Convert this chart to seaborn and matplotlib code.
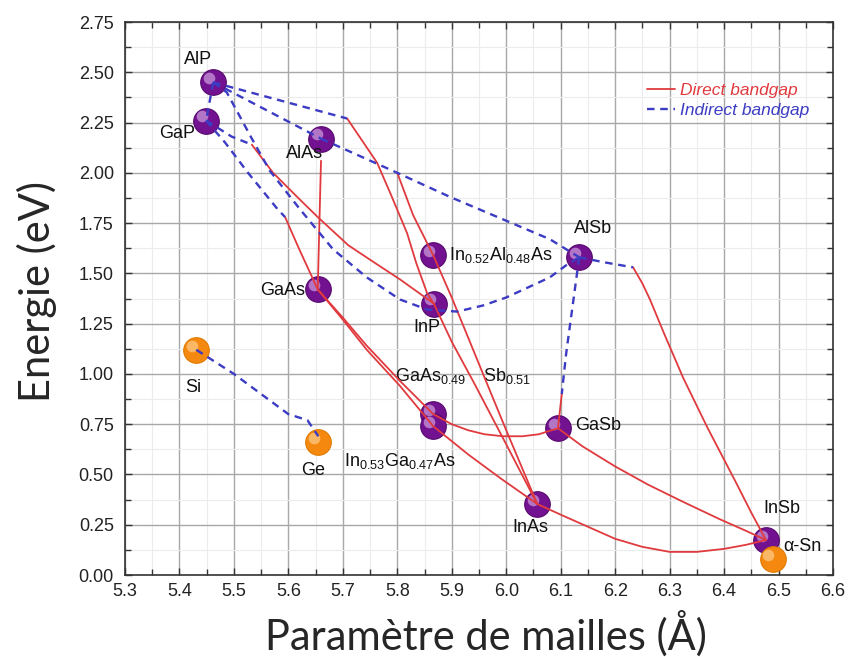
import matplotlib
matplotlib.use("Agg")
import matplotlib.pyplot as plt
import matplotlib.transforms as mtransforms
from matplotlib.lines import Line2D
from matplotlib.ticker import MultipleLocator, FormatStrFormatter
import pandas as pd
import seaborn as sns

# --- materiaux (parametre de maille en A, gap en eV) ---
iii_v_names = ["AlP", "GaP", "AlAs", "GaAs", "InP", "In0.52Al0.48As", "AlSb",
               "GaAs0.49Sb0.51", "In0.53Ga0.47As", "GaSb", "InAs", "InSb"]
iii_v_a = [5.462, 5.449, 5.660, 5.654, 5.867, 5.866, 6.134, 5.866, 5.866, 6.095, 6.057, 6.477]
iii_v_eg = [2.45, 2.26, 2.17, 1.42, 1.35, 1.59, 1.58, 0.80, 0.74, 0.73, 0.353, 0.174]

iv_names = ["Si", "Ge", "α-Sn"]
iv_a = [5.431, 5.655, 6.489]
iv_eg = [1.12, 0.66, 0.08]

# --- courbes gap direct (rouge) ---
direct_curves = {
    "AlAs-GaAs": [(5.660, 2.06), (5.657, 1.75), (5.654, 1.42)],
    "GaAsP": [(5.594, 1.78), (5.62, 1.62), (5.654, 1.42)],
    "GaInP": [(5.533, 2.14), (5.572, 2.00), (5.62, 1.87), (5.654, 1.78), (5.71, 1.64),
              (5.76, 1.55), (5.805, 1.47), (5.867, 1.35)],
    "AlInP": [(5.708, 2.27), (5.763, 2.05), (5.787, 1.90), (5.818, 1.70), (5.835, 1.55),
              (5.855, 1.40), (5.867, 1.35)],
    "InAsP": [(5.867, 1.35), (5.90, 1.16), (5.94, 0.96), (6.00, 0.65), (6.057, 0.353)],
    "AlInAs": [(5.80, 2.00), (5.829, 1.79), (5.866, 1.59), (5.90, 1.38), (5.962, 0.97),
               (6.00, 0.72), (6.057, 0.353)],
    "GaInAs": [(5.654, 1.42), (5.70, 1.27), (5.744, 1.12), (5.805, 0.94), (5.866, 0.74),
               (5.93, 0.60), (5.99, 0.48), (6.057, 0.353)],
    "GaAsSb": [(5.654, 1.42), (5.70, 1.28), (5.744, 1.14), (5.805, 0.965), (5.866, 0.80),
               (5.90, 0.75), (5.93, 0.72), (5.96, 0.70), (5.994, 0.69), (6.03, 0.69),
               (6.06, 0.70), (6.095, 0.73)],
    "InAsSb": [(6.057, 0.353), (6.10, 0.30), (6.15, 0.24), (6.20, 0.18), (6.25, 0.14),
               (6.30, 0.115), (6.35, 0.115), (6.40, 0.13), (6.44, 0.15), (6.477, 0.174)],
    "GaInSb": [(6.095, 0.73), (6.14, 0.64), (6.20, 0.54), (6.26, 0.45), (6.32, 0.37),
               (6.39, 0.28), (6.44, 0.22), (6.477, 0.174)],
    "AlInSb": [(6.233, 1.53), (6.25, 1.45), (6.264, 1.37), (6.29, 1.20), (6.325, 0.98),
               (6.37, 0.73), (6.42, 0.47), (6.45, 0.31), (6.477, 0.174)],
    "AlGaSb": [(6.102, 0.90), (6.095, 0.73)],
}

# --- courbes gap indirect (bleu, tirets) ---
indirect_curves = {
    "AlP-GaP": [(5.462, 2.45), (5.449, 2.26)],
    "AlP-InP": [(5.462, 2.45), (5.708, 2.27)],
    "AlP-AlAs": [(5.462, 2.45), (5.660, 2.17)],
    "AlAs-AlSb": [(5.660, 2.17), (5.80, 2.00), (5.897, 1.88), (6.08, 1.67), (6.134, 1.58)],
    "AlPSb": [(5.462, 2.45), (5.487, 2.40), (5.511, 2.28), (5.533, 2.17), (5.566, 2.01),
              (5.621, 1.82), (5.682, 1.62), (5.744, 1.48), (5.805, 1.37), (5.855, 1.32),
              (5.91, 1.31), (5.957, 1.34), (6.00, 1.38), (6.04, 1.43), (6.08, 1.48),
              (6.11, 1.54), (6.134, 1.58)],
    "GaP-InP": [(5.449, 2.26), (5.496, 2.18), (5.533, 2.14)],
    "GaP-GaAs": [(5.449, 2.26), (5.484, 2.15), (5.526, 2.00), (5.58, 1.82), (5.594, 1.78)],
    "AlSb-InSb": [(6.134, 1.58), (6.18, 1.555), (6.233, 1.53)],
    "AlSb-GaSb": [(6.134, 1.58), (6.12, 1.30), (6.11, 1.10), (6.102, 0.90)],
    "Si-Ge": [(5.431, 1.12), (5.50, 1.00), (5.60, 0.80), (5.635, 0.77), (5.655, 0.69)],
}

rows = []
for gap, curves in (("Direct", direct_curves), ("Indirect", indirect_curves)):
    for name, pts in curves.items():
        for i, (a, eg) in enumerate(pts):
            rows.append({"curve": name, "gap": gap, "order": i, "a": a, "eg": eg})
lines_df = pd.DataFrame(rows)

iii_v_df = pd.DataFrame({"name": iii_v_names, "a": iii_v_a, "eg": iii_v_eg})
iv_df = pd.DataFrame({"name": iv_names, "a": iv_a, "eg": iv_eg})

RED = "#e03a3e"
BLUE = "#3b3bc4"
PURPLE = "#731290"
ORANGE = "#f5890f"

sns.set_style("ticks")
plt.rcParams["font.family"] = ["Liberation Sans", "DejaVu Sans"]
plt.rcParams["mathtext.fontset"] = "custom"
plt.rcParams["mathtext.rm"] = "Liberation Sans"
plt.rcParams["mathtext.it"] = "Liberation Sans:italic"
plt.rcParams["mathtext.bf"] = "Liberation Sans:bold"

fig = plt.figure(figsize=(8.5, 6.57), dpi=100)
ax = fig.add_axes([0.147, 0.1248, 0.833, 0.8417])


def spheres(df, color, edge, light):
    sns.scatterplot(data=df, x="a", y="eg", ax=ax, s=340, color=color,
                    edgecolor=edge, linewidth=0.8, zorder=3, legend=False)
    off = mtransforms.offset_copy(ax.transData, fig=fig, x=-3, y=3, units="points")
    ax.scatter(df["a"], df["eg"], s=70, color=light, alpha=0.55, linewidths=0,
               transform=off, zorder=3.5)


spheres(iii_v_df, PURPLE, "#56086e", "#e9c8f3")
spheres(iv_df, ORANGE, "#e07a00", "#ffe0b0")

sns.lineplot(data=lines_df, x="a", y="eg", units="curve", estimator=None, sort=False,
             hue="gap", style="gap", size="gap",
             palette={"Direct": RED, "Indirect": BLUE},
             dashes={"Direct": "", "Indirect": (3.2, 2.4)},
             sizes={"Direct": 1.3, "Indirect": 1.7},
             legend=False, ax=ax, zorder=4)

# etiquettes
label_specs = {
    "AlP": ("AlP", (-15, 23), "center"),
    "GaP": ("GaP", (-29, -13), "center"),
    "AlAs": ("AlAs", (-16, -15), "center"),
    "GaAs": ("GaAs", (-13, -1), "right"),
    "InP": ("InP", (-7, -24), "center"),
    "In0.52Al0.48As": (r"In$_{0.52}$Al$_{0.48}$As", (16, 0), "left"),
    "AlSb": ("AlSb", (14, 29), "center"),
    "In0.53Ga0.47As": (r"In$_{0.53}$Ga$_{0.47}$As", (-89, -35), "left"),
    "GaSb": ("GaSb", (17, 3), "left"),
    "InAs": ("InAs", (-7, -23), "center"),
    "InSb": ("InSb", (16, 32), "center"),
    "Si": ("Si", (-3, -38), "center"),
    "Ge": ("Ge", (-5, -28), "center"),
    "α-Sn": ("α-Sn", (11, 12), "left"),
}
all_pts = pd.concat([iii_v_df, iv_df], ignore_index=True)
for _, r in all_pts.iterrows():
    if r["name"] in label_specs:
        txt, off, ha = label_specs[r["name"]]
        ax.annotate(txt, (r["a"], r["eg"]), xytext=off, textcoords="offset pixels",
                    ha=ha, va="center", fontsize=13, color="#111111", zorder=6)
gaassb = all_pts[all_pts["name"] == "GaAs0.49Sb0.51"].iloc[0]
ax.annotate(r"GaAs$_{0.49}$", (gaassb["a"], gaassb["eg"]), xytext=(-38, 38),
            textcoords="offset pixels", ha="left", va="center", fontsize=13, color="#111111")
ax.annotate(r"Sb$_{0.51}$", (gaassb["a"], gaassb["eg"]), xytext=(50, 38),
            textcoords="offset pixels", ha="left", va="center", fontsize=13, color="#111111")

# axes
ax.set_xlim(5.3, 6.6)
ax.set_ylim(0, 2.75)
ax.xaxis.set_major_locator(MultipleLocator(0.1))
ax.xaxis.set_minor_locator(MultipleLocator(0.05))
ax.yaxis.set_major_locator(MultipleLocator(0.25))
ax.yaxis.set_minor_locator(MultipleLocator(0.125))
ax.xaxis.set_major_formatter(FormatStrFormatter("%.1f"))
ax.yaxis.set_major_formatter(FormatStrFormatter("%.2f"))
ax.grid(which="major", color="#a8a8a8", linewidth=1.0, zorder=0)
ax.grid(which="minor", color="#ececec", linewidth=0.8, zorder=0)
ax.set_axisbelow(True)
ax.tick_params(which="both", direction="in", top=True, right=True, color="#333333")
ax.tick_params(which="major", length=5, width=1, labelsize=13, labelcolor="#222222")
ax.tick_params(axis="x", which="major", pad=6)
ax.tick_params(axis="y", which="major", pad=8)
ax.tick_params(which="minor", length=4, width=1)
for sp in ax.spines.values():
    sp.set_color("#333333")
    sp.set_linewidth(1.2)
ax.set_xlabel("")
ax.set_ylabel("")

fig.text(0.572, 0.036, "Paramètre de mailles (Å)", ha="center", va="center",
         fontsize=30, family="Lato")
fig.text(0.044, 0.556, "Energie (eV)", ha="center", va="center", rotation=90,
         fontsize=30, family="Lato")

handles = [Line2D([], [], color=RED, lw=1.3),
           Line2D([], [], color=BLUE, lw=1.7, dashes=(3.2, 2.4))]
ax.legend(handles, ["Direct bandgap", "Indirect bandgap"], loc="upper left",
          bbox_to_anchor=(0.715, 0.918), frameon=False, handlelength=1.6,
          handletextpad=0.3, labelspacing=0.3, labelcolor=[RED, BLUE],
          prop={"family": "Liberation Sans", "style": "italic", "size": 12.5})

fig.savefig("out.png", dpi=100)
